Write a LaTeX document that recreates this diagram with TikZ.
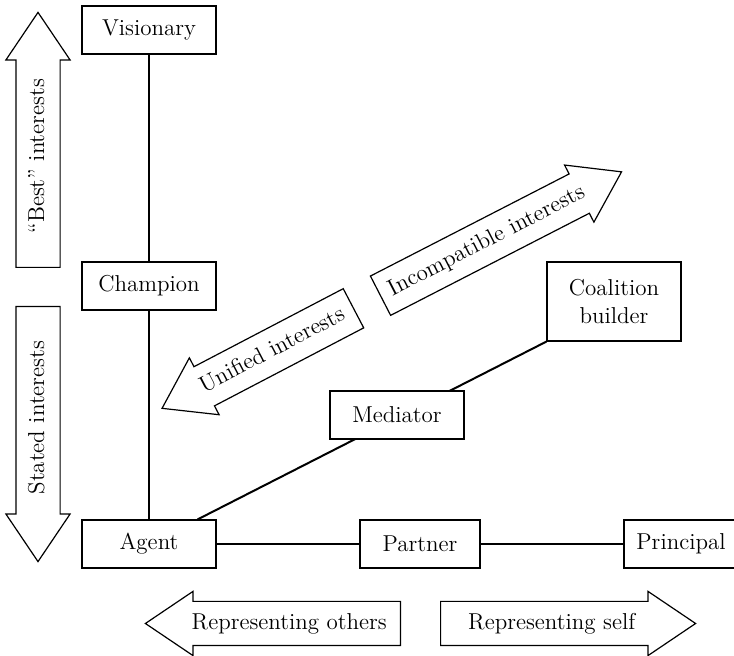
\documentclass[tikz,border=0pt]{standalone}
\usetikzlibrary{shapes.arrows,calc,backgrounds}

\begin{document}
\begin{tikzpicture}[x=0.5pt,y=0.5pt,
	font=\fontsize{11.5}{13.8}\selectfont,
	role/.style={draw,
		fill=white,
		line width=0.6pt,
		minimum width=67pt,
		minimum height=24pt,
		inner sep=2pt},
	bigarrow/.style={draw,
		fill=white,
		line width=0.6pt,
		single arrow,
		single arrow head extend=5pt,
		single arrow tip angle=68,
		text height=8pt,
		text depth=2pt,
		inner xsep=2pt,
		inner ysep=5.75pt,
		minimum height=127.5pt,
		anchor=tail},
	link/.style={line width=1pt}]
	\useasboundingbox (0,0) rectangle (734,656);
	
	\node [role] (Visionary) at (149,626) {Visionary};
	\node [role] (Champion) at (149,370) {Champion};
	\node [role] (Agent) at (149,112) {Agent};
	\node [role, minimum width=60pt] (Partner) at (420,112) {Partner};
	\node [role, minimum width=57pt] (Principal) at (681,112) {Principal};
	\node [role] (Mediator) at (397,241) {Mediator};
	\node [role,
	minimum height=39.5pt,
	align=center] (Coalition) at (614,354.5) {Coalition\\builder};
	
	\begin{scope}[on background layer]
		\draw [link] (Visionary) -- (Champion) -- (Agent);
		\draw [link] (Agent) -- (Partner) -- (Principal);
		\draw [link] ($(Agent.north west)!0.86!(Agent.north east)$) -- (Coalition.south west);
	\end{scope}
	
	\node [bigarrow, rotate=90] (Best) at (38,388) {``Best'' interests};
	\node [bigarrow, rotate=90, shape border rotate=180] (Stated) at (38,350) {Stated interests};
	\node [bigarrow, rotate=27.6, shape border rotate=180, minimum height=108pt] (Unified) at (354,348) {Unified interests};
	\node [bigarrow, rotate=27.2, minimum height=135.5pt] (Incompatible) at (380,360) {Incompatible interests};
	\node [bigarrow, shape border rotate=180] (Others) at (401,32.5) {Representing others};
	\node [bigarrow] (Self) at (440,32.5) {Representing self};
\end{tikzpicture}
\end{document}
